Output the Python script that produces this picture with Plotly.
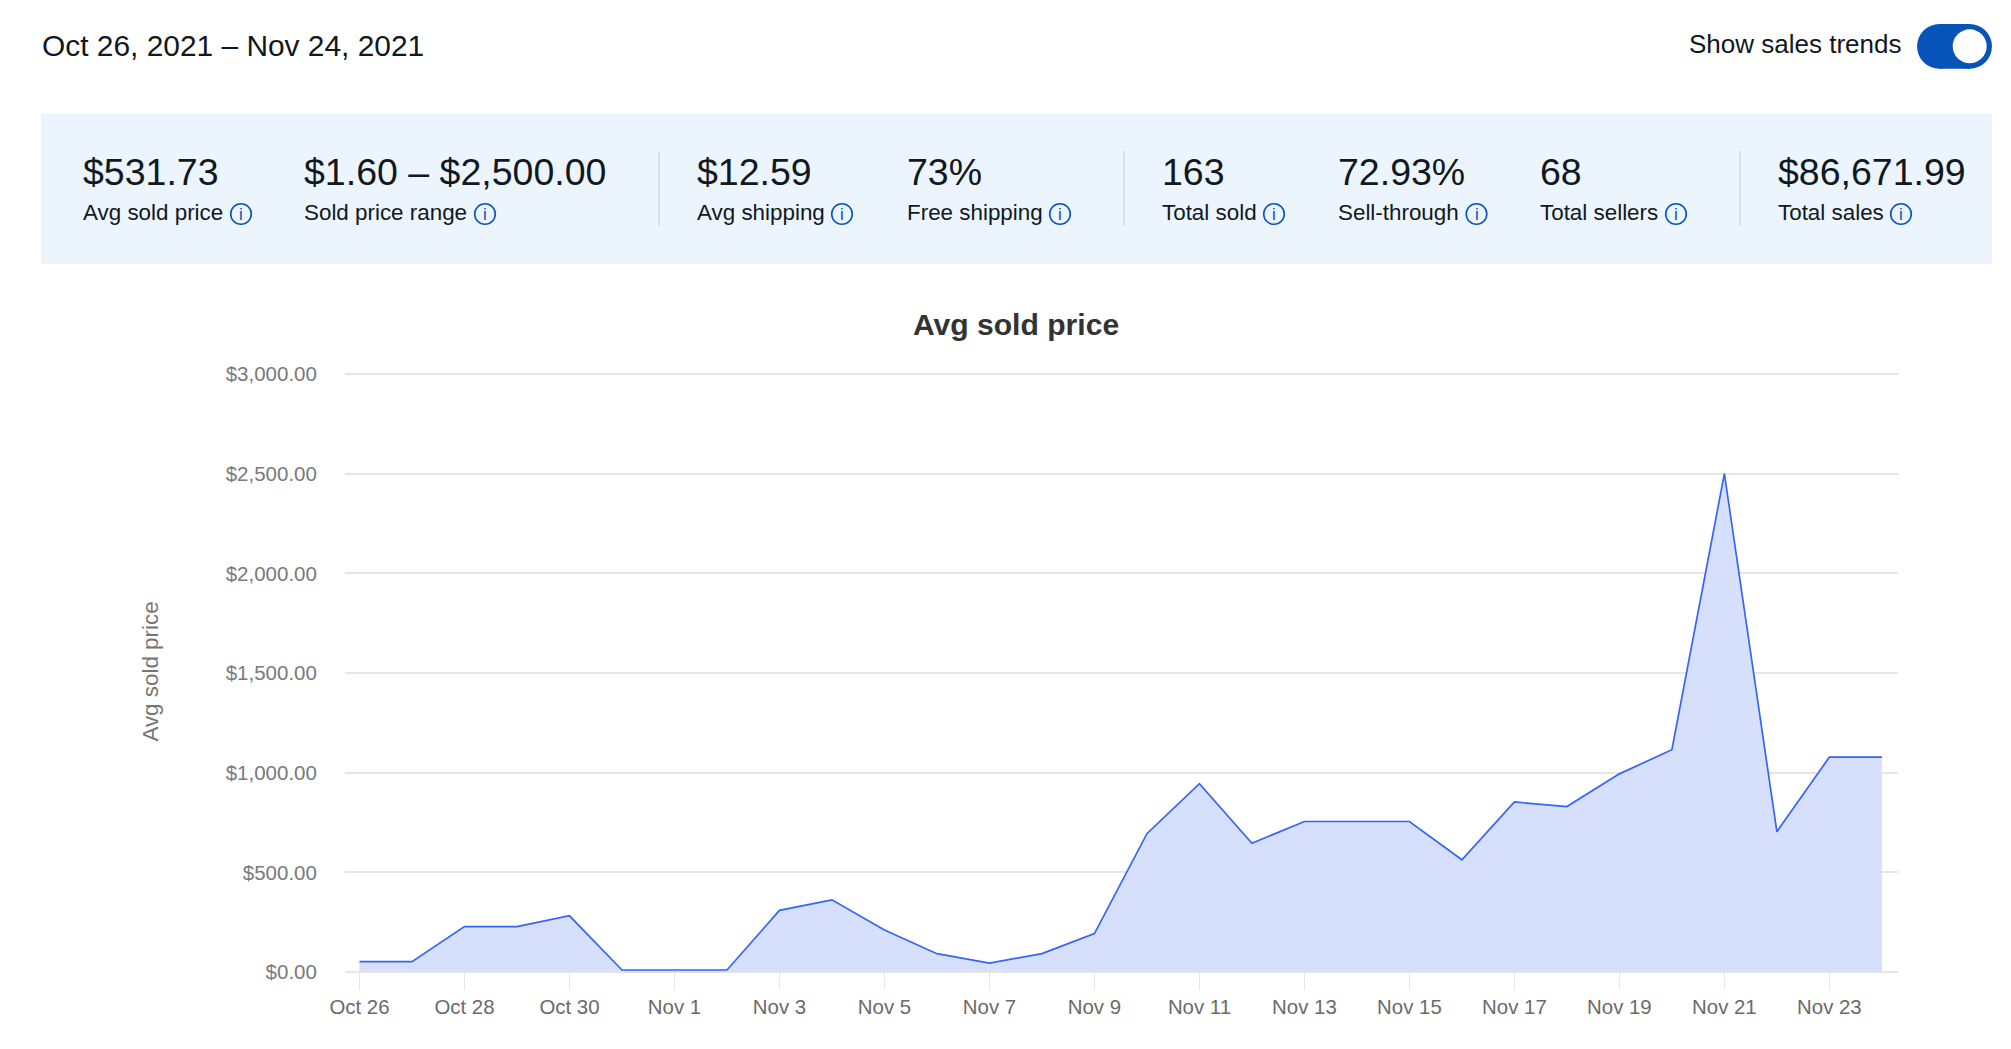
import plotly.graph_objects as go

# ---- data ----
days = ["Oct 26", "Oct 27", "Oct 28", "Oct 29", "Oct 30", "Oct 31",
        "Nov 1", "Nov 2", "Nov 3", "Nov 4", "Nov 5", "Nov 6", "Nov 7", "Nov 8", "Nov 9", "Nov 10",
        "Nov 11", "Nov 12", "Nov 13", "Nov 14", "Nov 15", "Nov 16", "Nov 17", "Nov 18", "Nov 19",
        "Nov 20", "Nov 21", "Nov 22", "Nov 23", "Nov 24"]
avg_sold_price = [52, 52, 228, 228, 282, 10, 10, 10, 309, 362, 211, 92, 45, 92, 193, 694,
                  945, 646, 755, 755, 755, 563, 853, 830, 994, 1115, 2500, 704, 1078, 1078]
y_ticks = [0, 500, 1000, 1500, 2000, 2500, 3000]
y_tick_labels = ["$0.00", "$500.00", "$1,000.00", "$1,500.00", "$2,000.00", "$2,500.00", "$3,000.00"]
kpi_values = ["$531.73", "$1.60 – $2,500.00", "$12.59", "73%", "163", "72.93%", "68", "$86,671.99"]
kpi_labels = ["Avg sold price", "Sold price range", "Avg shipping", "Free shipping",
              "Total sold", "Sell-through", "Total sellers", "Total sales"]
date_range = "Oct 26, 2021 – Nov 24, 2021"
toggle_label = "Show sales trends"
chart_title = "Avg sold price"

# ---- layout constants (pixels in the 2011x1049 page) ----
W, H = 2011, 1049
L, R, T, B = 345, 113, 371, 77
kpi_x = [81.7, 302.7, 695.7, 905.7, 1160.7, 1336.7, 1538.7, 1776.7]
info_x = [241, 485, 842, 1060, 1274, 1476.5, 1676, 1901]
sep_x = [659, 1124, 1740]
FONT = "Liberation Sans"
INK = "#111820"
BLUE = "#0654BA"


def px(x):
    return (x - L) / (W - L - R)


def py(y):
    return 1 - (y - T) / (H - T - B)


shapes = []
annotations = []


def rect(x0, y0, x1, y1, color, layer="below"):
    shapes.append(dict(type="rect", xref="paper", yref="paper", x0=px(x0), x1=px(x1),
                       y0=py(y0), y1=py(y1), fillcolor=color, line=dict(width=0), layer=layer))


def circle(cx, cy, r, fill, line_color=None, line_width=0):
    shapes.append(dict(type="circle", xref="paper", yref="paper", x0=px(cx - r), x1=px(cx + r),
                       y0=py(cy - r), y1=py(cy + r), fillcolor=fill, layer="above",
                       line=dict(width=line_width, color=line_color or fill)))


def text(x, y, s, size, color=INK, anchor="left", **kw):
    annotations.append(dict(xref="paper", yref="paper", x=px(x), y=py(y), text=s, showarrow=False,
                            xanchor=anchor, yanchor="middle", borderpad=0,
                            font=dict(family=FONT, size=size, color=color), **kw))


rect(41, 114, 1992, 264, "#ECF5FE")
for x in sep_x:
    shapes.append(dict(type="line", xref="paper", yref="paper", x0=px(x), x1=px(x),
                       y0=py(151), y1=py(226), line=dict(color="#C7CCD1", width=1), layer="below"))

for v, l, x, ix in zip(kpi_values, kpi_labels, kpi_x, info_x):
    text(x, 172, v, 37.5)
    text(x, 212, l, 22.4)
    circle(ix, 214, 10.3, "rgba(0,0,0,0)", BLUE, 1.6)
    text(ix, 214, "i", 17, BLUE, anchor="center")

text(41, 45, date_range, 29.9)
text(1902, 44, toggle_label, 26, anchor="right")

# toggle
rect(1917 + 22.4, 24, 1992 - 22.4, 68.7, BLUE, layer="above")
circle(1917 + 22.4, 46.35, 22.35, BLUE)
circle(1992 - 22.4, 46.35, 22.35, BLUE)
circle(1969.7, 46.35, 17, "#FFFFFF")

fig = go.Figure(go.Scatter(
    x=days, y=avg_sold_price, mode="lines", fill="tozeroy",
    line=dict(color="#3665F3", width=1.7), fillcolor="#D6E0FC", hoverinfo="skip",
))
fig.update_layout(
    width=W, height=H, autosize=False,
    margin=dict(l=L, r=R, t=T, b=B, pad=0),
    paper_bgcolor="white", plot_bgcolor="white",
    showlegend=False,
    font=dict(family=FONT, color="#767676", size=20),
    title=dict(text="<b>" + chart_title + "</b>", x=1016 / W, xref="container", xanchor="center",
               y=1 - 324.5 / H, yref="container", yanchor="middle",
               font=dict(family=FONT, size=30.1, color="#333333")),
    shapes=shapes, annotations=annotations,
    xaxis=dict(type="category", categoryorder="array", categoryarray=days,
               range=[-0.276, 29.307], tickmode="linear", tick0=0, dtick=2,
               ticks="outside", ticklen=17, tickwidth=1.4, tickcolor="#E6E6E6",
               showgrid=False, zeroline=False, showline=False,
               tickfont=dict(family=FONT, size=20.4, color="#6A6A6A")),
    yaxis=dict(range=[0, 3015], tickmode="array", tickvals=y_ticks, ticktext=y_tick_labels,
               ticks="outside", ticklen=23, tickcolor="rgba(0,0,0,0)", tickwidth=1,
               showgrid=True, gridcolor="#E6E6E6", gridwidth=1.6,
               zeroline=True, zerolinecolor="#E6E6E6", zerolinewidth=1.6, showline=False,
               tickfont=dict(family=FONT, size=20.5, color="#7A7A7A"),
               title=dict(text=chart_title, standoff=60,
                          font=dict(family=FONT, size=22.4, color="#767676"))),
)

fig.write_html("out.html", config=dict(displayModeBar=False),
               post_script="document.body.style.margin='0';document.documentElement.style.overflow='hidden';")
